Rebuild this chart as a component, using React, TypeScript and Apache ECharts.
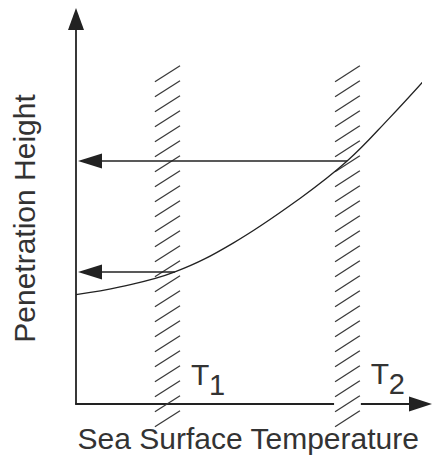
import React, { useEffect, useRef } from "react";
import * as echarts from "echarts";

// Curve: penetration height vs sea surface temperature (arbitrary units)
const curveX = [0, 1.28, 2.87, 4.56, 6.5, 7.87, 9.09, 10.28];
const curveY = [2.84, 3.04, 3.43, 4.18, 5.34, 6.31, 7.42, 8.58];

// Hatched threshold bands
const bandSub = ["1", "2"];
const bandLeft = [2.29, 7.52];
const bandRight = [3.02, 8.24];
const bandBottom = [-0.59, -0.59];
const bandTop = [8.74, 8.74];
const bandBreaksAxis = [0, 1];
const bandLabelY = [0.77, 0.8];

// Arrows from curve to y axis
const arrowFromX = [2.87, 7.87];
const arrowY = [3.43, 6.31];

const xLabel = "Sea Surface Temperature";
const yLabel = "Penetration Height";
const axisMin = 0;
const axisMax = 10;

const FONT = "Liberation Sans, Arial, Helvetica, sans-serif";
const INK = "#222";
const TEXT = "#333";

export default function App() {
  const ref = useRef<HTMLDivElement>(null);

  useEffect(() => {
    if (!ref.current) return;
    const chart = echarts.init(ref.current, undefined, { renderer: "svg" });

    const bandData = bandLeft.map((l, i) => [
      l,
      bandRight[i],
      bandBottom[i],
      bandTop[i],
      bandBreaksAxis[i],
      bandLabelY[i],
    ]);
    const arrowData = arrowFromX.map((x, i) => [x, arrowY[i]]);

    const option: any = {
      animation: false,
      backgroundColor: "#fff",
      grid: { left: 76, right: 14.5, top: 19, bottom: 51, containLabel: false },
      xAxis: {
        type: "value",
        min: axisMin,
        max: axisMax,
        name: xLabel,
        nameLocation: "middle",
        nameGap: 19,
        nameTextStyle: { fontSize: 30, fontFamily: FONT, color: TEXT },
        axisLine: {
          show: true,
          onZero: false,
          symbol: ["none", "triangle"],
          symbolSize: [15, 23],
          lineStyle: { color: INK, width: 1.8 },
        },
        axisTick: { show: false },
        axisLabel: { show: false },
        splitLine: { show: false },
      },
      yAxis: {
        type: "value",
        min: axisMin,
        max: axisMax,
        name: yLabel,
        nameLocation: "middle",
        nameRotate: 90,
        nameGap: 37,
        nameTextStyle: { fontSize: 30, fontFamily: FONT, color: TEXT, padding: [0, 14, 0, 0] },
        axisLine: {
          show: true,
          onZero: false,
          symbol: ["none", "triangle"],
          symbolSize: [16, 22],
          lineStyle: { color: INK, width: 1.8 },
        },
        axisTick: { show: false },
        axisLabel: { show: false },
        splitLine: { show: false },
      },
      series: [
        {
          type: "custom",
          name: "bands",
          z: 2,
          clip: false,
          encode: { x: [0, 1], y: [2, 3] },
          data: bandData,
          renderItem: (params: any, api: any) => {
            const l = api.value(0);
            const r = api.value(1);
            const b = api.value(2);
            const t = api.value(3);
            const brk = api.value(4);
            const ly = api.value(5);
            const pLB = api.coord([l, b]);
            const pRT = api.coord([r, t]);
            const x0 = pLB[0];
            const x1 = pRT[0];
            const y0 = pLB[1];
            const y1 = pRT[1];
            const children: any[] = [];
            if (brk) {
              const pa = api.coord([l, 0]);
              children.push({
                type: "rect",
                shape: { x: x0 - 1, y: pa[1] - 3, width: x1 - x0 + 2, height: 6 },
                style: { fill: "#fff" },
              });
            }
            const rise = 16;
            const step = 15;
            for (let y = y0; y - rise >= y1 - 2; y -= step) {
              children.push({
                type: "line",
                shape: { x1: x0, y1: y, x2: x1, y2: y - rise },
                style: { stroke: "#3a3a3a", lineWidth: 1.3 },
              });
            }
            const pl = api.coord([r, ly]);
            children.push({
              type: "text",
              style: {
                text: "T",
                x: pl[0] + 11,
                y: pl[1],
                fontSize: 30,
                fontFamily: FONT,
                fill: TEXT,
                align: "left",
                verticalAlign: "middle",
              },
            });
            children.push({
              type: "text",
              style: {
                text: bandSub[params.dataIndex],
                x: pl[0] + 29,
                y: pl[1] + 11,
                fontSize: 29,
                fontFamily: FONT,
                fill: TEXT,
                align: "left",
                verticalAlign: "middle",
              },
            });
            return { type: "group", children };
          },
        },
        {
          type: "line",
          name: "curve",
          z: 4,
          clip: false,
          smooth: 0.4,
          symbol: "none",
          data: curveX.map((x, i) => [x, curveY[i]]),
          lineStyle: { color: INK, width: 1.3 },
        },
        {
          type: "custom",
          name: "arrows",
          z: 5,
          clip: false,
          data: arrowData,
          renderItem: (params: any, api: any) => {
            const fx = api.value(0);
            const fy = api.value(1);
            const p = api.coord([fx, fy]);
            const pa = api.coord([0, fy]);
            const tip = pa[0] + 2;
            const len = 24;
            const hw = 7.5;
            return {
              type: "group",
              children: [
                {
                  type: "line",
                  shape: { x1: p[0], y1: p[1], x2: tip + len - 2, y2: p[1] },
                  style: { stroke: INK, lineWidth: 1.6 },
                },
                {
                  type: "polygon",
                  shape: {
                    points: [
                      [tip, p[1]],
                      [tip + len, p[1] - hw],
                      [tip + len, p[1] + hw],
                    ],
                  },
                  style: { fill: INK },
                },
              ],
            };
          },
        },
      ],
    };

    chart.setOption(option);
    return () => chart.dispose();
  }, []);

  return (
    <div
      ref={ref}
      style={{ position: "fixed", left: 0, top: 0, width: 435, height: 458 }}
    />
  );
}
